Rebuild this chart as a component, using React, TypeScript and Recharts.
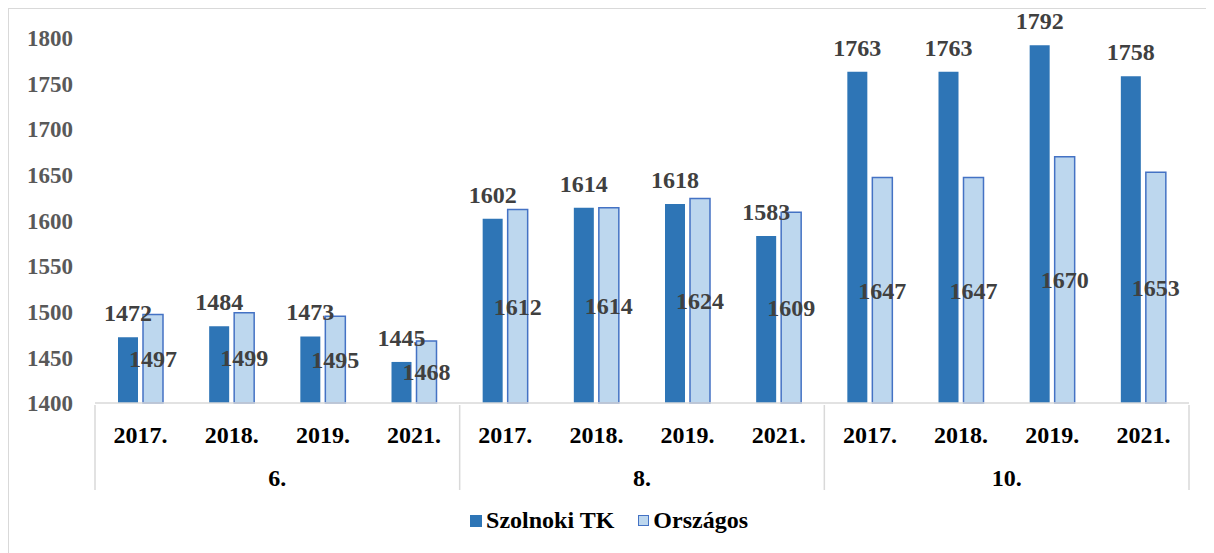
import React from "react";
import { BarChart, Bar, XAxis, YAxis, LabelList, Legend } from "recharts";

const years = ["2017.", "2018.", "2019.", "2021."];
const grades = ["6.", "8.", "10."];
const szolnoki = [1472, 1484, 1473, 1445, 1602, 1614, 1618, 1583, 1763, 1763, 1792, 1758];
const orszagos = [1497, 1499, 1495, 1468, 1612, 1614, 1624, 1609, 1647, 1647, 1670, 1653];
const yTicks = [1400, 1450, 1500, 1550, 1600, 1650, 1700, 1750, 1800];

const data = szolnoki.map((v, i) => ({
  year: years[i % years.length],
  grade: grades[Math.floor(i / years.length)],
  szolnoki: v,
  orszagos: orszagos[i],
}));

const FONT = "'Liberation Serif', 'Times New Roman', serif";
const W = 1200;
const H = 540;
const M = { top: 29, right: 20, left: 0, bottom: 61 };
const Y_W = 86;
const BAND = (W - M.left - M.right - Y_W) / data.length;

function CatTick(props: any) {
  const { x, y, payload, index } = props;
  const top = y - 6; // axis line
  const i = payload?.index ?? index;
  const left = x - BAND / 2;
  return (
    <g>
      <text
        x={x}
        y={top + 38}
        textAnchor="middle"
        fontFamily={FONT}
        fontWeight="bold"
        fontSize={24}
        fill="#000"
      >
        {payload.value}
      </text>
      {i % years.length === 0 && (
        <>
          <line x1={left} x2={left} y1={top} y2={top + 85} stroke="#d9d9d9" strokeWidth={1.5} />
          <text
            x={left + (BAND * years.length) / 2}
            y={top + 81}
            textAnchor="middle"
            fontFamily={FONT}
            fontWeight="bold"
            fontSize={24}
            fill="#000"
          >
            {data[i].grade}
          </text>
        </>
      )}
      {i === data.length - 1 && (
        <line x1={x + BAND / 2} x2={x + BAND / 2} y1={top} y2={top + 85} stroke="#d9d9d9" strokeWidth={1.5} />
      )}
    </g>
  );
}

function LegendContent() {
  const txt = { fontFamily: FONT, fontWeight: "bold" as const, fontSize: 24, color: "#000" };
  return (
    <div style={{ display: "flex", justifyContent: "center", alignItems: "center", gap: 4 }}>
      <span style={{ width: 12, height: 12, background: "#2E75B6", display: "inline-block" }} />
      <span style={{ ...txt, marginRight: 20 }}>Szolnoki TK</span>
      <span
        style={{
          width: 9,
          height: 9,
          background: "#BDD7EE",
          border: "1.5px solid #4472C4",
          display: "inline-block",
        }}
      />
      <span style={txt}>Országos</span>
    </div>
  );
}

export default function App() {
  return (
    <div
      style={{
        width: 1220,
        height: 560,
        border: "1px solid #d9d9d9",
        background: "#fff",
        boxSizing: "border-box",
      }}
    >
      <BarChart width={W} height={H} data={data} margin={M} barGap={5} barSize={20}>
        <XAxis
          dataKey="year"
          interval={0}
          height={85}
          axisLine={{ stroke: "#d9d9d9", strokeWidth: 1.5 }}
          tickLine={false}
          tick={<CatTick />}
        />
        <YAxis
          width={Y_W}
          domain={[1400, 1800]}
          ticks={yTicks}
          interval={0}
          axisLine={false}
          tickLine={false}
          tickMargin={16}
          tick={{ fill: "#595959", fontFamily: FONT, fontWeight: "bold", fontSize: 23 }}
        />
        <Legend
          verticalAlign="middle"
          layout="horizontal"
          content={<LegendContent />}
          wrapperStyle={{ top: 498, left: 0, width: W }}
        />
        <Bar dataKey="szolnoki" name="Szolnoki TK" fill="#2E75B6" isAnimationActive={false}>
          <LabelList
            dataKey="szolnoki"
            position="top"
            offset={16}
            fill="#404040"
            fontFamily={FONT}
            fontWeight="bold"
            fontSize={24}
          />
        </Bar>
        <Bar
          dataKey="orszagos"
          name="Országos"
          fill="#BDD7EE"
          stroke="#4472C4"
          strokeWidth={1.5}
          isAnimationActive={false}
        >
          <LabelList
            dataKey="orszagos"
            position="center"
            fill="#404040"
            fontFamily={FONT}
            fontWeight="bold"
            fontSize={24}
          />
        </Bar>
      </BarChart>
    </div>
  );
}
